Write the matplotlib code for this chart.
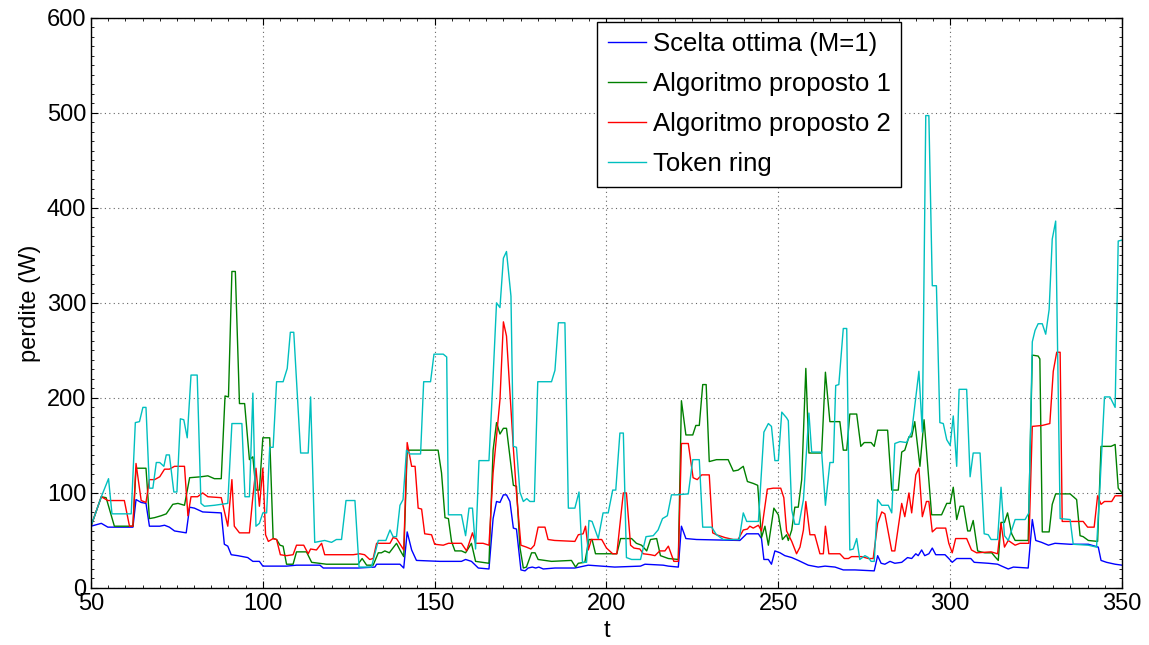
import matplotlib
matplotlib.use("Agg")
import matplotlib.pyplot as plt
from matplotlib.ticker import MultipleLocator

plt.rcParams['font.family'] = ['Liberation Sans', 'DejaVu Sans']

# perdite nel tempo per le quattro strategie (vertici delle spezzate)
t_opt = [50, 53, 54.9, 62.2, 63.1, 64.6, 66, 67, 70, 71.4, 72.8, 74.3, 77.7, 78.7, 80.1, 82.5, 87.9, 88.8,
         89.8, 90.8, 92.7, 95.6, 97.1, 99, 100, 106.9, 109.8, 116.6, 117.6, 127.7, 132.6, 133.1, 139.9, 141,
         142, 143.3, 144.7, 151.5, 157.8, 159, 160.7, 162.7, 165.8, 167, 168, 169, 170, 170.9, 171.9, 172.9,
         173.8, 175.1, 176.3, 177.2, 178.4, 179.4, 180.3, 181.6, 185, 190.8, 194.7, 202.4, 209.9, 211.2,
         216.5, 218, 220.9, 221.8, 223.1, 226.2, 238.8, 240.8, 244.2, 245.1, 245.8, 247.1, 248, 249, 250.5,
         251.9, 253.9, 255.8, 258.7, 261.6, 263.6, 266.5, 268.9, 272.3, 277.9, 278.9, 279.9, 281, 282.5,
         283.9, 285.9, 287.6, 288.8, 290, 290.7, 291.7, 292.6, 293.8, 294.8, 295.8, 298.5, 299.6, 300.6,
         301.9, 306, 307, 311.1, 313.8, 315, 316.9, 318.4, 322.7, 323.9, 324.9, 326.6, 328.6, 330.5, 334.9,
         340.2, 343.1, 343.9, 345.5, 348, 350]
p_opt = [65, 68, 64, 64, 93, 90, 89, 65, 65, 66, 64, 60, 58, 85, 84, 80, 79, 46,
         44, 35, 34, 32, 28, 28, 23, 23, 24, 24, 21, 21, 22, 25, 25, 21,
         59, 40, 29, 28, 28, 30, 28, 21, 20, 73, 91, 90, 98, 98, 91, 63,
         62, 19, 18, 21, 22, 21, 22, 20, 21, 21, 24, 22, 23, 25,
         24, 23, 22, 65, 52, 51, 50, 57, 57, 52, 30, 30, 25, 39, 37,
         34, 32, 29, 24, 22, 23, 22, 19, 19, 18, 34, 26, 25, 28,
         26, 27, 32, 31, 36, 34, 40, 34, 36, 42, 35, 35, 31, 27,
         31, 31, 27, 26, 25, 23, 20, 22, 21, 72, 50, 48, 45, 47, 46,
         46, 43, 29, 27, 25, 24]

t_alg1 = [50, 53, 54.4, 56.8, 62.2, 63.1, 66, 67, 68.5, 70.4, 71.9, 73.8, 75.3, 77.2, 78.7, 82, 84, 85.9,
          87.9, 89, 90, 91, 92, 93.2, 94.7, 96.1, 97.1, 98, 99, 100, 102, 103, 104, 105, 105.9, 106.9,
          108.8, 109.8, 112.7, 114.2, 118.5, 127.7, 128.9, 130.2, 132.1, 133.6, 134.5, 135.5, 136.8, 138.9,
          139.9, 141, 142, 151, 152, 153, 154, 154.9, 155.9, 157.8, 159, 160.7, 161.9, 165.8, 167, 168, 169,
          170, 170.9, 172.9, 173.8, 174.8, 175.8, 176.7, 178.2, 179.2, 180.1, 184, 189.8, 191, 191.8, 193.7,
          194.9, 195.8, 196.8, 203, 204.1, 207.3, 208.7, 210.2, 211.7, 212.8, 214.6, 215.7, 218, 220.9,
          221.8, 223.1, 225.1, 226, 227, 228, 229, 229.9, 232, 235.4, 236.9, 238.3, 239.8, 241, 242.7, 244,
          245.1, 246.1, 247.1, 248.7, 250, 251.2, 252.4, 252.9, 253.9, 254.8, 255.8, 256.8, 258, 258.9,
          262.6, 263.7, 265, 267.9, 268.9, 269.9, 270.8, 272.8, 274, 275, 277, 277.9, 278.9, 281.8, 283,
          284.9, 285.9, 286.8, 288, 288.8, 289.7, 291.2, 292.4, 294.6, 297.5, 299, 300, 300.9, 301.9, 302.9,
          303.9, 305.1, 305.8, 306.7, 308, 308.9, 310.1, 312.1, 313, 314, 314.8, 315.8, 316.7, 317.9, 318.9,
          322.7, 323.9, 325.6, 326.1, 326.8, 328.8, 329.7, 330.7, 334.9, 336.8, 337.8, 338.7, 340.2, 342.9,
          343.9, 346.8, 348, 348.9, 350]
p_alg1 = [65, 96, 95, 65, 65, 126, 126, 73, 74, 76, 78, 88, 89, 87, 116, 117, 118, 115,
          115, 202, 201, 333, 333, 194, 194, 135, 138, 103, 103, 158, 158, 52, 51, 45, 44, 25,
          25, 38, 38, 27, 25, 25, 31, 24, 24, 37, 37, 39, 37, 47,
          40, 33, 145, 145, 121, 74, 73, 49, 39, 39, 37, 47, 28, 26, 145, 174, 162,
          168, 168, 108, 107, 43, 21, 22, 37, 37, 30, 28, 29, 22, 26, 27,
          51, 51, 36, 36, 52, 52, 47, 45, 39, 51, 52, 34, 31, 30,
          197, 161, 161, 171, 171, 214, 214, 133, 135, 135, 123, 124, 128, 112, 110, 108,
          53, 65, 45, 84, 77, 51, 56, 50, 61, 85, 85, 114, 231, 142,
          142, 227, 175, 175, 145, 145, 183, 183, 149, 153, 153, 149, 166, 166, 103,
          103, 143, 145, 159, 159, 175, 128, 177, 77, 77, 89, 89, 106, 72, 86,
          86, 60, 60, 71, 39, 38, 37, 37, 33, 29, 69, 69, 79, 57, 50,
          50, 245, 244, 241, 59, 59, 88, 99, 99, 93, 55, 54, 50, 49,
          149, 149, 151, 105, 100]

t_alg2 = [50, 53, 54.9, 59.7, 61.2, 62.2, 63.1, 64.6, 66, 67, 68.5, 70, 71.4, 72.8, 74.3, 77.2, 78.2, 79.1,
          81, 82.5, 84, 87.9, 89.8, 91, 91.7, 93.2, 96.1, 97.1, 98, 99, 100, 100.8, 101.6, 103, 104, 105.1,
          106.9, 108.8, 109.8, 111.9, 113.2, 113.9, 115.6, 117.1, 118, 126.3, 128.2, 129.6, 131.1, 132.1,
          133.1, 137, 137.9, 138.9, 141, 142, 143.3, 144.3, 145.2, 146.2, 147.1, 149.1, 150, 152.5, 154,
          157.8, 159.3, 161, 161.9, 164.1, 165.8, 167, 169, 170, 170.9, 172.9, 173.8, 175.1, 176.7, 178,
          179, 180.1, 182.1, 183, 184.9, 190.8, 191.8, 193.2, 193.9, 194.7, 195.6, 198.6, 200, 201.8, 203,
          204.9, 205.8, 207, 208, 209.7, 210.7, 212.8, 214.1, 215.5, 217, 218, 219.6, 220.9, 221.8, 223.8,
          225.2, 226.4, 227.7, 229.9, 230.9, 232, 234.5, 236.9, 238.3, 239.8, 241, 241.7, 242.7, 244.2,
          245.1, 246.8, 248.5, 250.7, 251.6, 252.4, 253.9, 255.3, 256.3, 257.3, 258, 259.2, 260.6, 262.1,
          263.1, 263.7, 264.7, 267.9, 269.2, 270.4, 271.3, 274.2, 276.2, 277.6, 278.9, 280.1, 281, 283,
          283.9, 285.9, 286.8, 288, 288.8, 290, 290.9, 291.9, 293.1, 293.8, 294.8, 296, 298.7, 299.6, 300.6,
          301.6, 304.8, 306.2, 307.7, 311.9, 313.8, 314.8, 315.8, 316.9, 318.9, 320.3, 322.9, 323.9, 326.8,
          329, 330, 331, 332, 332.6, 338.7, 340, 341.9, 342.9, 343.9, 344.9, 347, 348, 350]
p_alg2 = [65, 96, 92, 92, 65, 65, 131, 92, 90, 114, 114, 117, 125, 125, 128, 128, 76, 96,
          96, 100, 96, 95, 65, 114, 65, 58, 58, 96, 126, 86, 126, 56, 49, 52, 51, 35,
          34, 35, 45, 45, 36, 41, 40, 47, 35, 35, 36, 35, 30, 31,
          47, 47, 53, 52, 40, 153, 128, 128, 84, 83, 57, 56, 46, 45, 47,
          47, 39, 58, 47, 47, 45, 121, 198, 280, 265, 147, 100, 45, 43, 41,
          45, 64, 64, 51, 50, 49, 56, 57, 65, 40, 51, 51, 42, 36, 36,
          100, 100, 45, 42, 41, 36, 35, 34, 39, 39, 44, 28, 28, 152, 152,
          116, 114, 119, 119, 58, 56, 53, 51, 51, 61, 62, 65, 63, 66,
          60, 104, 105, 105, 95, 60, 49, 36, 43, 61, 91, 56, 56, 36,
          36, 65, 36, 36, 31, 31, 33, 33, 31, 31, 68, 80, 78, 39,
          39, 89, 75, 100, 79, 119, 126, 75, 91, 91, 59, 63, 63, 47, 37,
          52, 52, 40, 37, 38, 36, 68, 43, 50, 45, 47, 47, 170, 171,
          173, 228, 248, 248, 70, 70, 64, 64, 97, 88, 91, 91, 97, 97]

t_token = [50, 53, 55.1, 56.1, 61.7, 62.9, 64.1, 65.1, 66, 67, 68, 69, 70, 71.2, 71.9, 72.8, 74.1, 75, 76,
           77, 78, 79.1, 80.9, 82, 83, 85.9, 89.8, 91, 93.9, 94.8, 96.1, 97.1, 98, 99, 100, 101.1, 102,
           103, 104, 105.9, 107.1, 108, 109, 111, 113.2, 113.9, 115.1, 116.6, 118, 120, 121.4, 122.9, 124.2,
           126.8, 128, 131.6, 133.6, 135.8, 137, 137.9, 138.9, 139.9, 140.8, 141.8, 142.8, 145.9, 146.8,
           148.8, 149.8, 152.5, 153.5, 154, 157.8, 159, 160, 161, 161.9, 162.9, 165.8, 167, 168, 169, 170,
           170.9, 172.2, 172.9, 173.8, 174.8, 175.8, 176.8, 177.7, 179, 180, 184, 185, 186, 187.9, 188.9,
           190.8, 192, 193, 194.2, 194.9, 195.8, 197.6, 199, 200.5, 201.8, 202.7, 203.9, 204.9, 205.8,
           207.3, 209.9, 211.5, 213.6, 215, 216.3, 217.7, 218.9, 220.4, 223.8, 225.1, 227, 228, 230.6, 232,
           234, 238.6, 239.8, 240.8, 244.2, 245.8, 247.1, 248, 249, 250, 251, 252.4, 252.9, 253.9, 254.8,
           256, 257.3, 258.2, 258.9, 259.7, 262.6, 263.7, 265, 266, 266.7, 267.6, 268.9, 269.9, 270.8,
           271.8, 272.8, 273.7, 275.2, 276.2, 277, 277.9, 278.9, 280.1, 282, 283, 283.9, 285.4, 287.3,
           288.8, 290, 290.9, 291.9, 292.9, 293.8, 294.8, 296, 297, 298, 299, 300, 300.9, 301.9, 302.6,
           304.8, 305.8, 306.7, 308.7, 309.9, 311.1, 311.9, 313.8, 314.8, 315.8, 316.9, 318.9, 321.8, 322.9,
           323.9, 324.7, 325.6, 326.8, 327.8, 328.8, 329.7, 330.7, 332, 334.9, 335.8, 340.2, 342.6, 343.6,
           344.9, 346.5, 348, 348.9, 350]
p_token = [65, 96, 115, 78, 78, 174, 175, 190, 190, 105, 105, 132, 132, 128, 140, 140, 101, 101, 178,
           177, 158, 224, 224, 89, 86, 87, 89, 173, 173, 96, 96, 205, 65, 68, 79, 79, 148,
           148, 217, 217, 231, 269, 269, 142, 142, 201, 48, 49, 50, 48, 51, 51, 92,
           92, 22, 22, 50, 50, 61, 54, 54, 87, 93, 145, 141, 141, 217,
           217, 246, 246, 243, 77, 77, 55, 84, 84, 41, 134, 134, 222, 300, 295, 347,
           354, 307, 149, 148, 101, 91, 94, 91, 91, 217, 217, 229, 279, 279, 84,
           84, 101, 27, 27, 71, 70, 52, 79, 79, 103, 103, 163, 163, 32,
           30, 30, 54, 55, 61, 73, 76, 98, 98, 99, 135, 135, 64, 64, 56,
           51, 51, 79, 70, 70, 164, 173, 170, 134, 134, 185, 179, 176, 82, 67,
           67, 93, 145, 184, 143, 143, 87, 132, 132, 213, 214, 273, 273, 40,
           41, 52, 30, 34, 32, 28, 28, 93, 87, 87, 79, 152, 154, 153,
           164, 201, 228, 164, 497, 497, 318, 318, 174, 173, 156, 150, 181, 128, 209,
           209, 117, 142, 142, 57, 56, 51, 51, 106, 55, 50, 72, 72, 79,
           259, 271, 278, 278, 267, 293, 367, 386, 73, 72, 46, 45, 43, 108,
           201, 201, 190, 365, 366]

fig = plt.figure(figsize=(11.49, 6.45), dpi=100)
ax = fig.add_axes([0.0792, 0.0884, 0.8973, 0.8842])

ax.plot(t_opt, p_opt, color='#0000ff', lw=1.0, label='Scelta ottima (M=1)')
ax.plot(t_alg1, p_alg1, color='#008000', lw=1.0, label='Algoritmo proposto 1')
ax.plot(t_alg2, p_alg2, color='#ff0000', lw=1.0, label='Algoritmo proposto 2')
ax.plot(t_token, p_token, color='#00bfbf', lw=1.0, label='Token ring')

ax.set_xlim(50, 350)
ax.set_ylim(0, 600)
ax.xaxis.set_major_locator(MultipleLocator(50))
ax.yaxis.set_major_locator(MultipleLocator(100))
ax.xaxis.set_minor_locator(MultipleLocator(5))
ax.yaxis.set_minor_locator(MultipleLocator(10))
ax.tick_params(which='both', direction='in', top=True, right=True, labelsize=17)
ax.tick_params(which='major', length=5)
ax.tick_params(which='minor', length=2.5)
ax.grid(True, which='major', color='0.4', linestyle=(0, (1, 3)), linewidth=0.8)
for s in ax.spines.values():
    s.set_linewidth(1.0)

ax.set_xlabel('t', fontsize=17, labelpad=4)
ax.set_ylabel('perdite (W)', fontsize=17, labelpad=4)

leg = ax.legend(loc='upper left', bbox_to_anchor=(0.4908, 0.993), fontsize=18.5,
                handlelength=1.5, handletextpad=0.25, labelspacing=0.62,
                borderpad=0.42, borderaxespad=0, fancybox=False, framealpha=1,
                edgecolor='black')
leg.get_frame().set_linewidth(1.0)

fig.savefig('out.png', dpi=100)
